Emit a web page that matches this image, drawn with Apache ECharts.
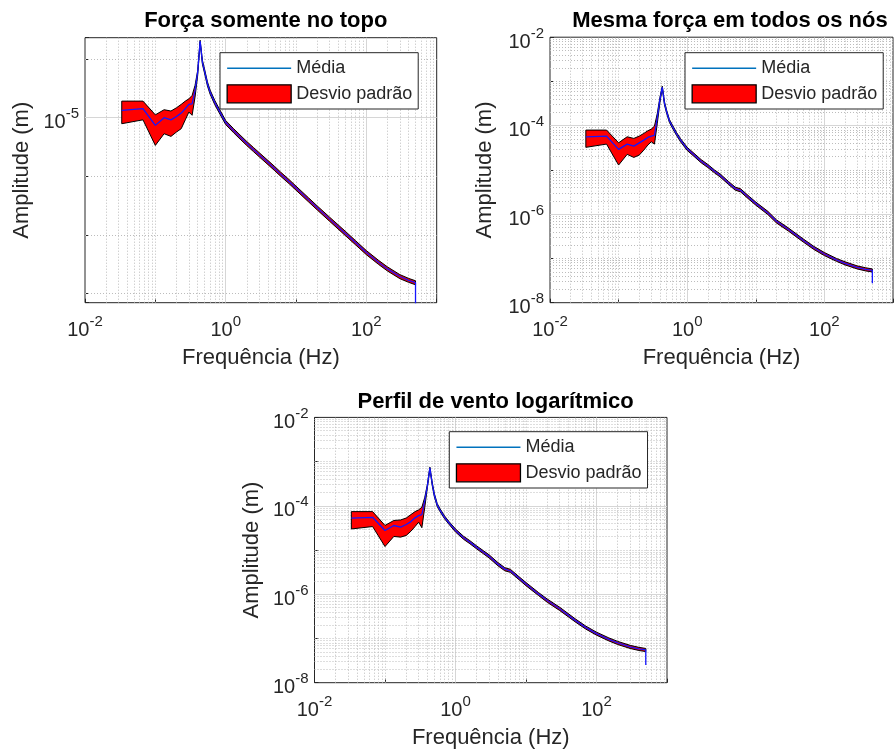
<!DOCTYPE html>
<html><head><meta charset="utf-8">
<script src="https://cdn.jsdelivr.net/npm/echarts@6/dist/echarts.min.js"></script>
<style>html,body{margin:0;padding:0;background:#fff}#c{width:896px;height:753px}</style>
</head><body><div id="c"></div>
<script>
// ---------- DATA ----------
const freq = [0.0333, 0.0667, 0.1, 0.1333, 0.1667, 0.2, 0.2333, 0.2667, 0.3, 0.3333, 0.3667, 0.4, 0.4333,
  0.4667, 0.5, 0.55, 0.6, 0.7, 0.8, 1.0, 1.3, 1.6, 2, 2.5, 3, 4, 5, 6, 8, 10, 15, 20, 30, 50, 70, 100, 150, 200, 300, 400, 499.9, 500];

const titles = ['Força somente no topo', 'Mesma força em todos os nós', 'Perfil de vento logarítmico'];
const xTitle = 'Frequência (Hz)';
const yTitle = 'Amplitude (m)';
const nameMean = 'Média';
const nameBand = 'Desvio padrão';
const xTickExps = [-2, 0, 2];
const yTickExps1 = [-5];
const yTickExps23 = [-2, -4, -6, -8];

// Plot 1: Força somente no topo
const mean1 = [1.33e-5, 1.43e-5, 7.4e-6, 1.0e-5, 9.2e-6, 1.05e-5, 1.2e-5, 1.43e-5, 1.69e-5, 1.73e-5, 2.92e-5, 6.0e-5, 2.03e-4,
  8.9e-5, 6.3e-5, 3.8e-5, 2.75e-5, 1.82e-5, 1.35e-5, 8.3e-6, 6.0e-6, 4.7e-6, 3.63e-6, 2.85e-6, 2.34e-6, 1.72e-6, 1.35e-6, 1.1e-6,
  8.1e-7, 6.3e-7, 4.0e-7, 2.9e-7, 1.86e-7, 1.07e-7, 7.4e-8, 5.0e-8, 3.39e-8, 2.63e-8, 1.95e-8, 1.68e-8, 1.53e-8, 6.5e-9];
const upper1 = [1.92e-5, 1.92e-5, 1.12e-5, 1.37e-5, 1.3e-5, 1.48e-5, 1.69e-5, 1.92e-5, 2.1e-5, 2.4e-5, 3.56e-5, 6.4e-5, 2.1e-4,
  9.6e-5, 6.8e-5, 4.1e-5, 2.97e-5, 1.97e-5, 1.46e-5, 8.96e-6, 6.48e-6, 5.08e-6, 3.92e-6, 3.08e-6, 2.53e-6, 1.86e-6, 1.46e-6, 1.19e-6,
  8.75e-7, 6.8e-7, 4.32e-7, 3.13e-7, 2.01e-7, 1.16e-7, 8.0e-8, 5.4e-8, 3.66e-8, 2.84e-8, 2.1e-8, 1.81e-8, 1.65e-8];
const lower1 = [7.9e-6, 9.2e-6, 3.37e-6, 5.33e-6, 4.8e-6, 5.7e-6, 6.5e-6, 9.2e-6, 1.25e-5, 1.1e-5, 2.25e-5, 5.3e-5, 1.95e-4,
  8.2e-5, 5.8e-5, 3.5e-5, 2.53e-5, 1.67e-5, 1.24e-5, 7.64e-6, 5.52e-6, 4.32e-6, 3.34e-6, 2.62e-6, 2.15e-6, 1.58e-6, 1.24e-6, 1.01e-6,
  7.45e-7, 5.8e-7, 3.68e-7, 2.67e-7, 1.71e-7, 9.8e-8, 6.8e-8, 4.6e-8, 3.12e-8, 2.42e-8, 1.79e-8, 1.55e-8, 1.41e-8];

// Plot 2: Mesma força em todos os nós
const mean2 = [5.6e-5, 5.82e-5, 2.92e-5, 3.84e-5, 3.46e-5, 4.1e-5, 4.73e-5, 5.43e-5, 5.82e-5, 6.03e-5, 1.54e-4, 3.92e-4, 7.4e-4,
  3.2e-4, 2.1e-4, 1.29e-4, 1.0e-4, 6.5e-5, 4.7e-5, 3.0e-5, 2.1e-5, 1.58e-5, 1.23e-5, 9.3e-6, 7.6e-6, 5.1e-6, 3.8e-6, 3.47e-6,
  2.34e-6, 1.74e-6, 1.07e-6, 6.9e-7, 4.5e-7, 2.51e-7, 1.74e-7, 1.26e-7, 9.3e-8, 7.76e-8, 6.3e-8, 5.69e-8, 5.37e-8, 2.75e-8];
const upper2 = [7.96e-5, 7.96e-5, 4.11e-5, 5.62e-5, 5.16e-5, 5.82e-5, 6.7e-5, 7.68e-5, 8.38e-5, 9.8e-5, 1.89e-4, 4.34e-4, 7.83e-4,
  3.46e-4, 2.27e-4, 1.39e-4, 1.08e-4, 7.0e-5, 5.08e-5, 3.24e-5, 2.27e-5, 1.71e-5, 1.33e-5, 1.0e-5, 8.2e-6, 5.5e-6, 4.1e-6, 3.75e-6,
  2.53e-6, 1.88e-6, 1.16e-6, 7.45e-7, 4.86e-7, 2.71e-7, 1.88e-7, 1.36e-7, 1.0e-7, 8.4e-8, 6.8e-8, 6.15e-8, 5.8e-8];
const lower2 = [3.24e-5, 3.84e-5, 1.29e-5, 2.25e-5, 1.92e-5, 2.17e-5, 2.81e-5, 3.65e-5, 4.34e-5, 3.84e-5, 1.13e-4, 3.3e-4, 7.06e-4,
  2.94e-4, 1.93e-4, 1.19e-4, 9.2e-5, 6.0e-5, 4.32e-5, 2.76e-5, 1.93e-5, 1.45e-5, 1.13e-5, 8.6e-6, 7.0e-6, 4.7e-6, 3.5e-6, 3.19e-6,
  2.15e-6, 1.6e-6, 9.8e-7, 6.35e-7, 4.14e-7, 2.31e-7, 1.6e-7, 1.16e-7, 8.6e-8, 7.15e-8, 5.8e-8, 5.23e-8, 4.94e-8];

// Plot 3: Perfil de vento logarítmico
const mean3 = [5.25e-5, 5.5e-5, 2.77e-5, 3.59e-5, 3.29e-5, 3.78e-5, 4.4e-5, 5.35e-5, 6.0e-5, 6.35e-5, 1.32e-4, 2.9e-4, 7.2e-4,
  3.2e-4, 1.78e-4, 1.05e-4, 8.1e-5, 5.5e-5, 4.2e-5, 2.78e-5, 1.9e-5, 1.51e-5, 1.15e-5, 8.9e-6, 7.2e-6, 4.8e-6, 3.7e-6, 3.4e-6,
  2.3e-6, 1.7e-6, 1.02e-6, 7.2e-7, 4.7e-7, 2.57e-7, 1.78e-7, 1.29e-7, 9.55e-8, 7.94e-8, 6.46e-8, 5.82e-8, 5.5e-8, 2.5e-8];
const upper3 = [7.4e-5, 7.4e-5, 3.6e-5, 4.66e-5, 4.8e-5, 5.3e-5, 6.35e-5, 7.4e-5, 8.1e-5, 9.3e-5, 1.56e-4, 3.1e-4, 7.5e-4,
  3.46e-4, 1.92e-4, 1.13e-4, 8.7e-5, 5.9e-5, 4.5e-5, 3.0e-5, 2.05e-5, 1.63e-5, 1.24e-5, 9.6e-6, 7.8e-6, 5.2e-6, 4.0e-6, 3.67e-6,
  2.48e-6, 1.84e-6, 1.1e-6, 7.8e-7, 5.1e-7, 2.78e-7, 1.92e-7, 1.39e-7, 1.03e-7, 8.6e-8, 7.0e-8, 6.3e-8, 5.95e-8];
const lower3 = [3.0e-5, 3.4e-5, 1.2e-5, 2.03e-5, 1.96e-5, 2.14e-5, 2.67e-5, 3.4e-5, 4.27e-5, 3.2e-5, 9.3e-5, 2.64e-4, 6.9e-4,
  2.94e-4, 1.64e-4, 9.7e-5, 7.5e-5, 5.1e-5, 3.9e-5, 2.56e-5, 1.75e-5, 1.39e-5, 1.06e-5, 8.2e-6, 6.6e-6, 4.4e-6, 3.4e-6, 3.13e-6,
  2.12e-6, 1.56e-6, 9.4e-7, 6.6e-7, 4.3e-7, 2.37e-7, 1.64e-7, 1.19e-7, 8.8e-8, 7.3e-8, 5.95e-8, 5.35e-8, 5.06e-8];

// ---------- LAYOUT / STYLE ----------
const FONT = '"Liberation Sans", Arial, Helvetica, sans-serif';
const TXT = '#262626';
const X_MIN = 0.01, X_MAX = 1000;
const panels = [
  {mean: mean1, up: upper1, lo: lower1, yTicks: yTickExps1, yMinorDecadesOnly: true,
   grid: {left: 85, top: 37.7, width: 351.7, height: 265}, yMin: 6.97e-9, yMax: 2.32e-4,
   legend: {left: 220, top: 52.7}, titleX: 260.8, titleTop: 5, yNameGap: 52},
  {mean: mean2, up: upper2, lo: lower2, yTicks: yTickExps23, yMinorDecadesOnly: false,
   grid: {left: 550, top: 37.2, width: 350, height: 265.5}, yMin: 1e-8, yMax: 1e-2,
   legend: {left: 685, top: 52.7}, titleX: 725, titleTop: 5, yNameGap: 54},
  {mean: mean3, up: upper3, lo: lower3, yTicks: yTickExps23, yMinorDecadesOnly: false,
   grid: {left: 314.5, top: 417.4, width: 352.5, height: 265.3}, yMin: 1e-8, yMax: 1e-2,
   legend: {left: 449.3, top: 431.7}, titleX: 490.6, titleTop: 385.5, yNameGap: 52}
];

function powLabel(allowed) {
  return function (v) {
    const e = Math.log10(v);
    const r = Math.round(e);
    if (Math.abs(e - r) < 1e-6 && allowed.indexOf(r) >= 0) return '{b|10}{s|' + r + '}';
    return '';
  };
}
const rich = {
  b: {fontSize: 20, fontFamily: FONT, color: TXT, padding: [10, 0, 0, 0]},
  s: {fontSize: 15, fontFamily: FONT, color: TXT, padding: [0, 0, 7, 0]}
};

const majorStyle = {color: '#d6d6d6', type: 'solid', width: 1};
const minorStyle = {color: '#bcbcbc', type: [1, 2], width: 1};

function gridLines(p) {
  const out = [];
  // vertical lines (frequency grid)
  for (let e = -2; e < 3; e++) {
    for (let m = 1; m < 10; m++) {
      const v = m * Math.pow(10, e);
      if (v <= X_MIN * 1.0001) continue;
      const isMajor = (m === 1 && xTickExps.indexOf(e) >= 0);
      out.push([{coord: [v, p.yMin * 1.0001], lineStyle: isMajor ? majorStyle : minorStyle}, {coord: [v, p.yMax * 0.9999]}]);
    }
  }
  // horizontal lines (amplitude grid)
  const eMin = Math.ceil(Math.log10(p.yMin) - 1e-9);
  const eMax = Math.floor(Math.log10(p.yMax) + 1e-9);
  for (let e = eMin - 1; e <= eMax; e++) {
    for (let m = 1; m < 10; m++) {
      if (p.yMinorDecadesOnly && m > 1) continue;
      const v = m * Math.pow(10, e);
      if (v < p.yMin * 1.0001 || v > p.yMax * 0.9999) continue;
      const isMajor = (m === 1 && p.yTicks.indexOf(e) >= 0);
      out.push([{coord: [X_MIN * 1.0001, v], lineStyle: isMajor ? majorStyle : minorStyle}, {coord: [X_MAX * 0.9999, v]}]);
    }
  }
  return out;
}

const option = {
  animation: false,
  backgroundColor: '#ffffff',
  title: panels.map((p, i) => ({
    text: titles[i], left: p.titleX, top: p.titleTop, textAlign: 'center',
    textStyle: {fontSize: 22, fontWeight: 'bold', fontFamily: FONT, color: '#000'}
  })),
  grid: panels.map(p => Object.assign({show: true, borderColor: TXT, borderWidth: 1, backgroundColor: 'transparent', containLabel: false}, p.grid)),
  xAxis: panels.map((p, i) => ({
    type: 'log', logBase: 10, gridIndex: i, min: X_MIN, max: X_MAX,
    axisLine: {show: false},
    axisTick: {show: true, inside: true, length: 4, lineStyle: {color: TXT}},
    splitLine: {show: false},
    axisLabel: {formatter: powLabel(xTickExps), rich: rich, margin: 7.3, color: TXT},
    name: xTitle, nameLocation: 'middle', nameGap: 44,
    nameTextStyle: {fontSize: 22, fontFamily: FONT, color: TXT}
  })),
  yAxis: panels.map((p, i) => ({
    type: 'log', logBase: 10, gridIndex: i, min: p.yMin, max: p.yMax,
    axisLine: {show: false},
    axisTick: {show: true, inside: true, length: 4, lineStyle: {color: TXT}},
    splitLine: {show: false},
    axisLabel: {formatter: powLabel(p.yTicks), rich: rich, margin: 6, color: TXT},
    name: yTitle, nameLocation: 'middle', nameGap: p.yNameGap,
    nameTextStyle: {fontSize: 22, fontFamily: FONT, color: TXT}
  })),
  legend: panels.map(p => ({
    left: p.legend.left, top: p.legend.top, orient: 'vertical',
    itemWidth: 64, itemHeight: 18, itemGap: 7,
    padding: [6.5, 6, 5.5, 6.5],
    backgroundColor: '#ffffff', borderColor: TXT, borderWidth: 1, borderRadius: 0,
    textStyle: {fontSize: 18, fontFamily: FONT, color: TXT},
    selectedMode: false, z: 10, symbolKeepAspect: true,
    data: [
      {name: nameMean, icon: 'path://M0,0H64V1.4H0Z', itemStyle: {color: '#0072BD', borderWidth: 0}},
      {name: nameBand, icon: 'rect', itemStyle: {color: '#ff0000', borderColor: '#000', borderWidth: 1.3}}
    ]
  })),
  series: []
};

panels.forEach((p, i) => {
  option.series.push({
    type: 'line', name: '_grid' + i, xAxisIndex: i, yAxisIndex: i, data: [], silent: true, z: 0,
    markLine: {silent: true, symbol: ['none', 'none'], z: 1, animation: false, label: {show: false},
      emphasis: {disabled: true}, data: gridLines(p)}
  });
  const up = p.up, lo = p.lo;
  option.series.push({
    type: 'custom', name: nameBand, xAxisIndex: i, yAxisIndex: i, z: 3, silent: true,
    itemStyle: {color: '#ff0000'},
    data: up.map((u, j) => [freq[j], lo[j], u]),
    encode: {x: 0, y: [1, 2]},
    renderItem: function (params, api) {
      if (params.dataIndex !== 0) return null;
      const pts = [];
      for (let j = 0; j < up.length; j++) pts.push(api.coord([freq[j], up[j]]));
      for (let j = lo.length - 1; j >= 0; j--) pts.push(api.coord([freq[j], lo[j]]));
      return {type: 'polygon', shape: {points: pts}, style: {fill: '#ff0000', stroke: '#000000', lineWidth: 1}};
    }
  });
  option.series.push({
    type: 'line', name: nameMean, xAxisIndex: i, yAxisIndex: i, z: 4, silent: true,
    data: freq.map((f, j) => [f, p.mean[j]]),
    symbol: 'none', showSymbol: false, clip: true,
    lineStyle: {color: '#1515ff', width: 1.3},
    itemStyle: {color: '#1515ff'}
  });
});

const chart = echarts.init(document.getElementById('c'), null, {renderer: 'canvas'});
chart.setOption(option);
</script>
</body></html>
